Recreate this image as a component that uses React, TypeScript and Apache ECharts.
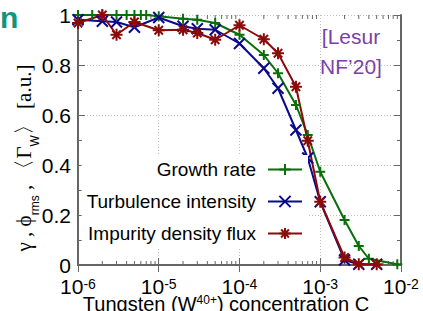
import React, { useEffect, useRef } from "react";
import * as echarts from "echarts";

const FONT = "'Liberation Sans', Arial, sans-serif";
const SERIF = "'Liberation Serif', 'DejaVu Serif', serif";

// concentration C values and normalised quantities
const growthC = [1e-6, 1.5e-6, 2e-6, 3e-6, 4e-6, 5e-6, 6e-6, 7e-6, 1e-5, 2e-5, 3e-5, 5e-5, 1e-4, 2e-4, 3e-4, 5e-4, 7e-4, 1e-3, 2e-3, 3e-3, 4e-3, 9e-3];
const growthRate = [1.0, 1.0, 1.0, 1.0, 1.0, 1.0, 1.0, 1.0, 0.995, 0.985, 0.981, 0.968, 0.921, 0.84, 0.767, 0.64, 0.52, 0.373, 0.18, 0.076, 0.025, 0.003];

const turbC = [1e-6, 2e-6, 3e-6, 5e-6, 1e-5, 2e-5, 3e-5, 5e-5, 1e-4, 2e-4, 3e-4, 5e-4, 7e-4, 1e-3, 2e-3, 3e-3, 5e-3];
const turbIntensity = [0.981, 0.975, 0.972, 0.951, 0.99, 0.955, 0.945, 0.941, 0.886, 0.787, 0.707, 0.54, 0.428, 0.253, 0.02, 0.003, 0.003];

const fluxC = [1e-6, 2e-6, 3e-6, 5e-6, 1e-5, 2e-5, 3e-5, 5e-5, 1e-4, 2e-4, 3e-4, 5e-4, 7e-4, 1e-3, 2e-3, 3e-3, 5e-3];
const fluxImpurity = [0.968, 1.0, 0.921, 0.972, 0.939, 0.941, 0.928, 0.901, 0.959, 0.903, 0.847, 0.713, 0.497, 0.253, 0.03, 0.003, 0.003];

const seriesNames = ["Growth rate", "Turbulence intensity", "Impurity density flux"];
const decades = [1e-6, 1e-5, 1e-4, 1e-3];
const minorMultipliers = [2, 3, 4, 5, 6, 7, 8, 9];

const GREEN = "#0a6e0a";
const BLUE = "#0a0a8c";
const RED = "#8b0a0a";
const FRAME = "#666666";

const PLUS = "path://M0,5L10,5M5,0L5,10";
const CROSS = "path://M0,0L10,10M10,0L0,10";
const STAR = "path://M0,5L10,5M5,0L5,10M1.5,1.5L8.5,8.5M8.5,1.5L1.5,8.5";

export default function App() {
  const ref = useRef<HTMLDivElement>(null);
  useEffect(() => {
    if (!ref.current) return;
    const chart = echarts.init(ref.current, null, { renderer: "svg" });
    const minorTicks: number[][] = [];
    decades.forEach((d) => minorMultipliers.forEach((m) => minorTicks.push([d * m, 0])));

    const mk = (xs: number[], ys: number[]) => xs.map((x, i) => [x, ys[i]]);
    const lineSeries = (name: string, data: number[][], color: string, symbol: string, size: number) => ({
      type: "line",
      name,
      data,
      symbol,
      symbolSize: size,
      showSymbol: true,
      showAllSymbol: true,
      lineStyle: { color, width: 2 },
      itemStyle: { color, borderColor: color, borderWidth: 2 },
      clip: true,
      z: 3,
    });

    const xLabelRich = {
      b: { fontSize: 21, lineHeight: 20, verticalAlign: "bottom", fontFamily: FONT, color: "#000" },
      sup: { fontSize: 14, lineHeight: 8, verticalAlign: "top", fontFamily: FONT, color: "#000" },
    };

    chart.setOption({
      animation: false,
      textStyle: { fontFamily: FONT },
      grid: { left: 78, right: 22, top: 15, bottom: 46, show: false },
      legend: {
        data: seriesNames,
        orient: "vertical",
        right: 115,
        top: 155,
        align: "right",
        itemWidth: 34,
        itemHeight: 14,
        itemGap: 13,
        padding: 5,
        backgroundColor: "#ffffff",
        textStyle: { fontSize: 19, fontFamily: FONT, color: "#000", padding: [0, 7, 0, 0] },
      },
      xAxis: [
        {
          type: "log",
          logBase: 10,
          min: 1e-6,
          max: 1e-2,
          position: "bottom",
          axisLine: { show: true, lineStyle: { color: FRAME, width: 2 } },
          axisTick: { show: true, inside: true, length: 7, lineStyle: { color: FRAME, width: 1 } },
          splitLine: { show: true, lineStyle: { color: "#c0c0c0", type: [1, 2], width: 1 } },
          axisLabel: {
            margin: 12,
            formatter: (v: number) => `{b|10}{sup|${Math.round(Math.log10(v))}}`,
            rich: xLabelRich,
          },
        },
        {
          type: "log",
          logBase: 10,
          min: 1e-6,
          max: 1e-2,
          position: "top",
          axisLine: { show: true, lineStyle: { color: FRAME, width: 2 } },
          axisTick: { show: true, inside: true, length: 7, lineStyle: { color: FRAME, width: 1 } },
          splitLine: { show: false },
          axisLabel: { show: false },
        },
      ],
      yAxis: [
        {
          type: "value",
          min: 0,
          max: 1,
          interval: 0.2,
          position: "left",
          axisLine: { show: true, lineStyle: { color: FRAME, width: 2 } },
          axisTick: { show: true, inside: true, length: 7, lineStyle: { color: FRAME, width: 1 } },
          minorTick: { show: true, splitNumber: 2, length: 4, lineStyle: { color: FRAME, width: 1 } },
          splitLine: { show: true, lineStyle: { color: "#c0c0c0", type: [1, 2], width: 1 } },
          axisLabel: {
            margin: 7,
            fontSize: 21,
            color: "#000",
            fontFamily: FONT,
            formatter: (v: number) => (v === 0 || v === 1 ? String(v) : v.toFixed(1)),
          },
        },
        {
          type: "value",
          min: 0,
          max: 1,
          interval: 0.2,
          position: "right",
          axisLine: { show: true, lineStyle: { color: FRAME, width: 2 } },
          axisTick: { show: true, inside: true, length: 7, lineStyle: { color: FRAME, width: 1 } },
          minorTick: { show: true, splitNumber: 2, length: 4, lineStyle: { color: FRAME, width: 1 } },
          splitLine: { show: false },
          axisLabel: { show: false },
        },
      ],
      series: [
        {
          type: "custom",
          name: "minorTicks",
          xAxisIndex: 0,
          yAxisIndex: 0,
          silent: true,
          clip: false,
          z: 1,
          data: minorTicks,
          renderItem: (params: any, api: any) => {
            const v = api.value(0);
            const b = api.coord([v, 0]);
            const t = api.coord([v, 1]);
            return {
              type: "group",
              children: [
                { type: "line", shape: { x1: b[0], y1: b[1], x2: b[0], y2: b[1] - 4 }, style: { stroke: FRAME, lineWidth: 1 } },
                { type: "line", shape: { x1: t[0], y1: t[1], x2: t[0], y2: t[1] + 4 }, style: { stroke: FRAME, lineWidth: 1 } },
              ],
            };
          },
        },
        lineSeries(seriesNames[0], mk(growthC, growthRate), GREEN, PLUS, 10),
        lineSeries(seriesNames[1], mk(turbC, turbIntensity), BLUE, CROSS, 11),
        lineSeries(seriesNames[2], mk(fluxC, fluxImpurity), RED, STAR, 12),
      ],
      graphic: [
        {
          type: "text",
          left: 0,
          top: 2,
          style: { text: "n", font: `bold 30px ${FONT}`, fill: "#12957a" },
        },
        {
          type: "text",
          x: 351,
          y: 21,
          style: {
            text: "[Lesur\nNF’20]",
            font: `21px ${FONT}`,
            fill: "#7b3fa8",
            lineHeight: 30,
            align: "center",
            textAlign: "center",
          },
        },
        {
          type: "text",
          x: 226,
          y: 294,
          style: {
            text: "Tungsten (W{sup|40+}) concentration C",
            font: `20px ${FONT}`,
            fill: "#000",
            align: "center",
            textAlign: "center",
            rich: {
              sup: { fontSize: 12, lineHeight: 10, verticalAlign: "top", fontFamily: FONT, fill: "#000" },
            },
          },
        },
        {
          type: "text",
          x: 27,
          y: 158,
          rotation: Math.PI / 2,
          style: {
            text: "{g|γ , ϕ}{s|rms}{g| , 〈Γ}{s|W}{g|〉 [a.u.]}",
            font: `21px ${FONT}`,
            fill: "#000",
            align: "center",
            textAlign: "center",
            verticalAlign: "middle",
            textVerticalAlign: "middle",
            rich: {
              g: { fontSize: 21, lineHeight: 27, verticalAlign: "top", fontFamily: SERIF, fill: "#000" },
              s: { fontSize: 12, lineHeight: 12, verticalAlign: "bottom", fontFamily: FONT, fill: "#000" },
            },
          },
        },
      ],
    });
    return () => chart.dispose();
  }, []);
  return <div ref={ref} style={{ width: 423, height: 311, position: "absolute", left: 0, top: 0 }} />;
}
